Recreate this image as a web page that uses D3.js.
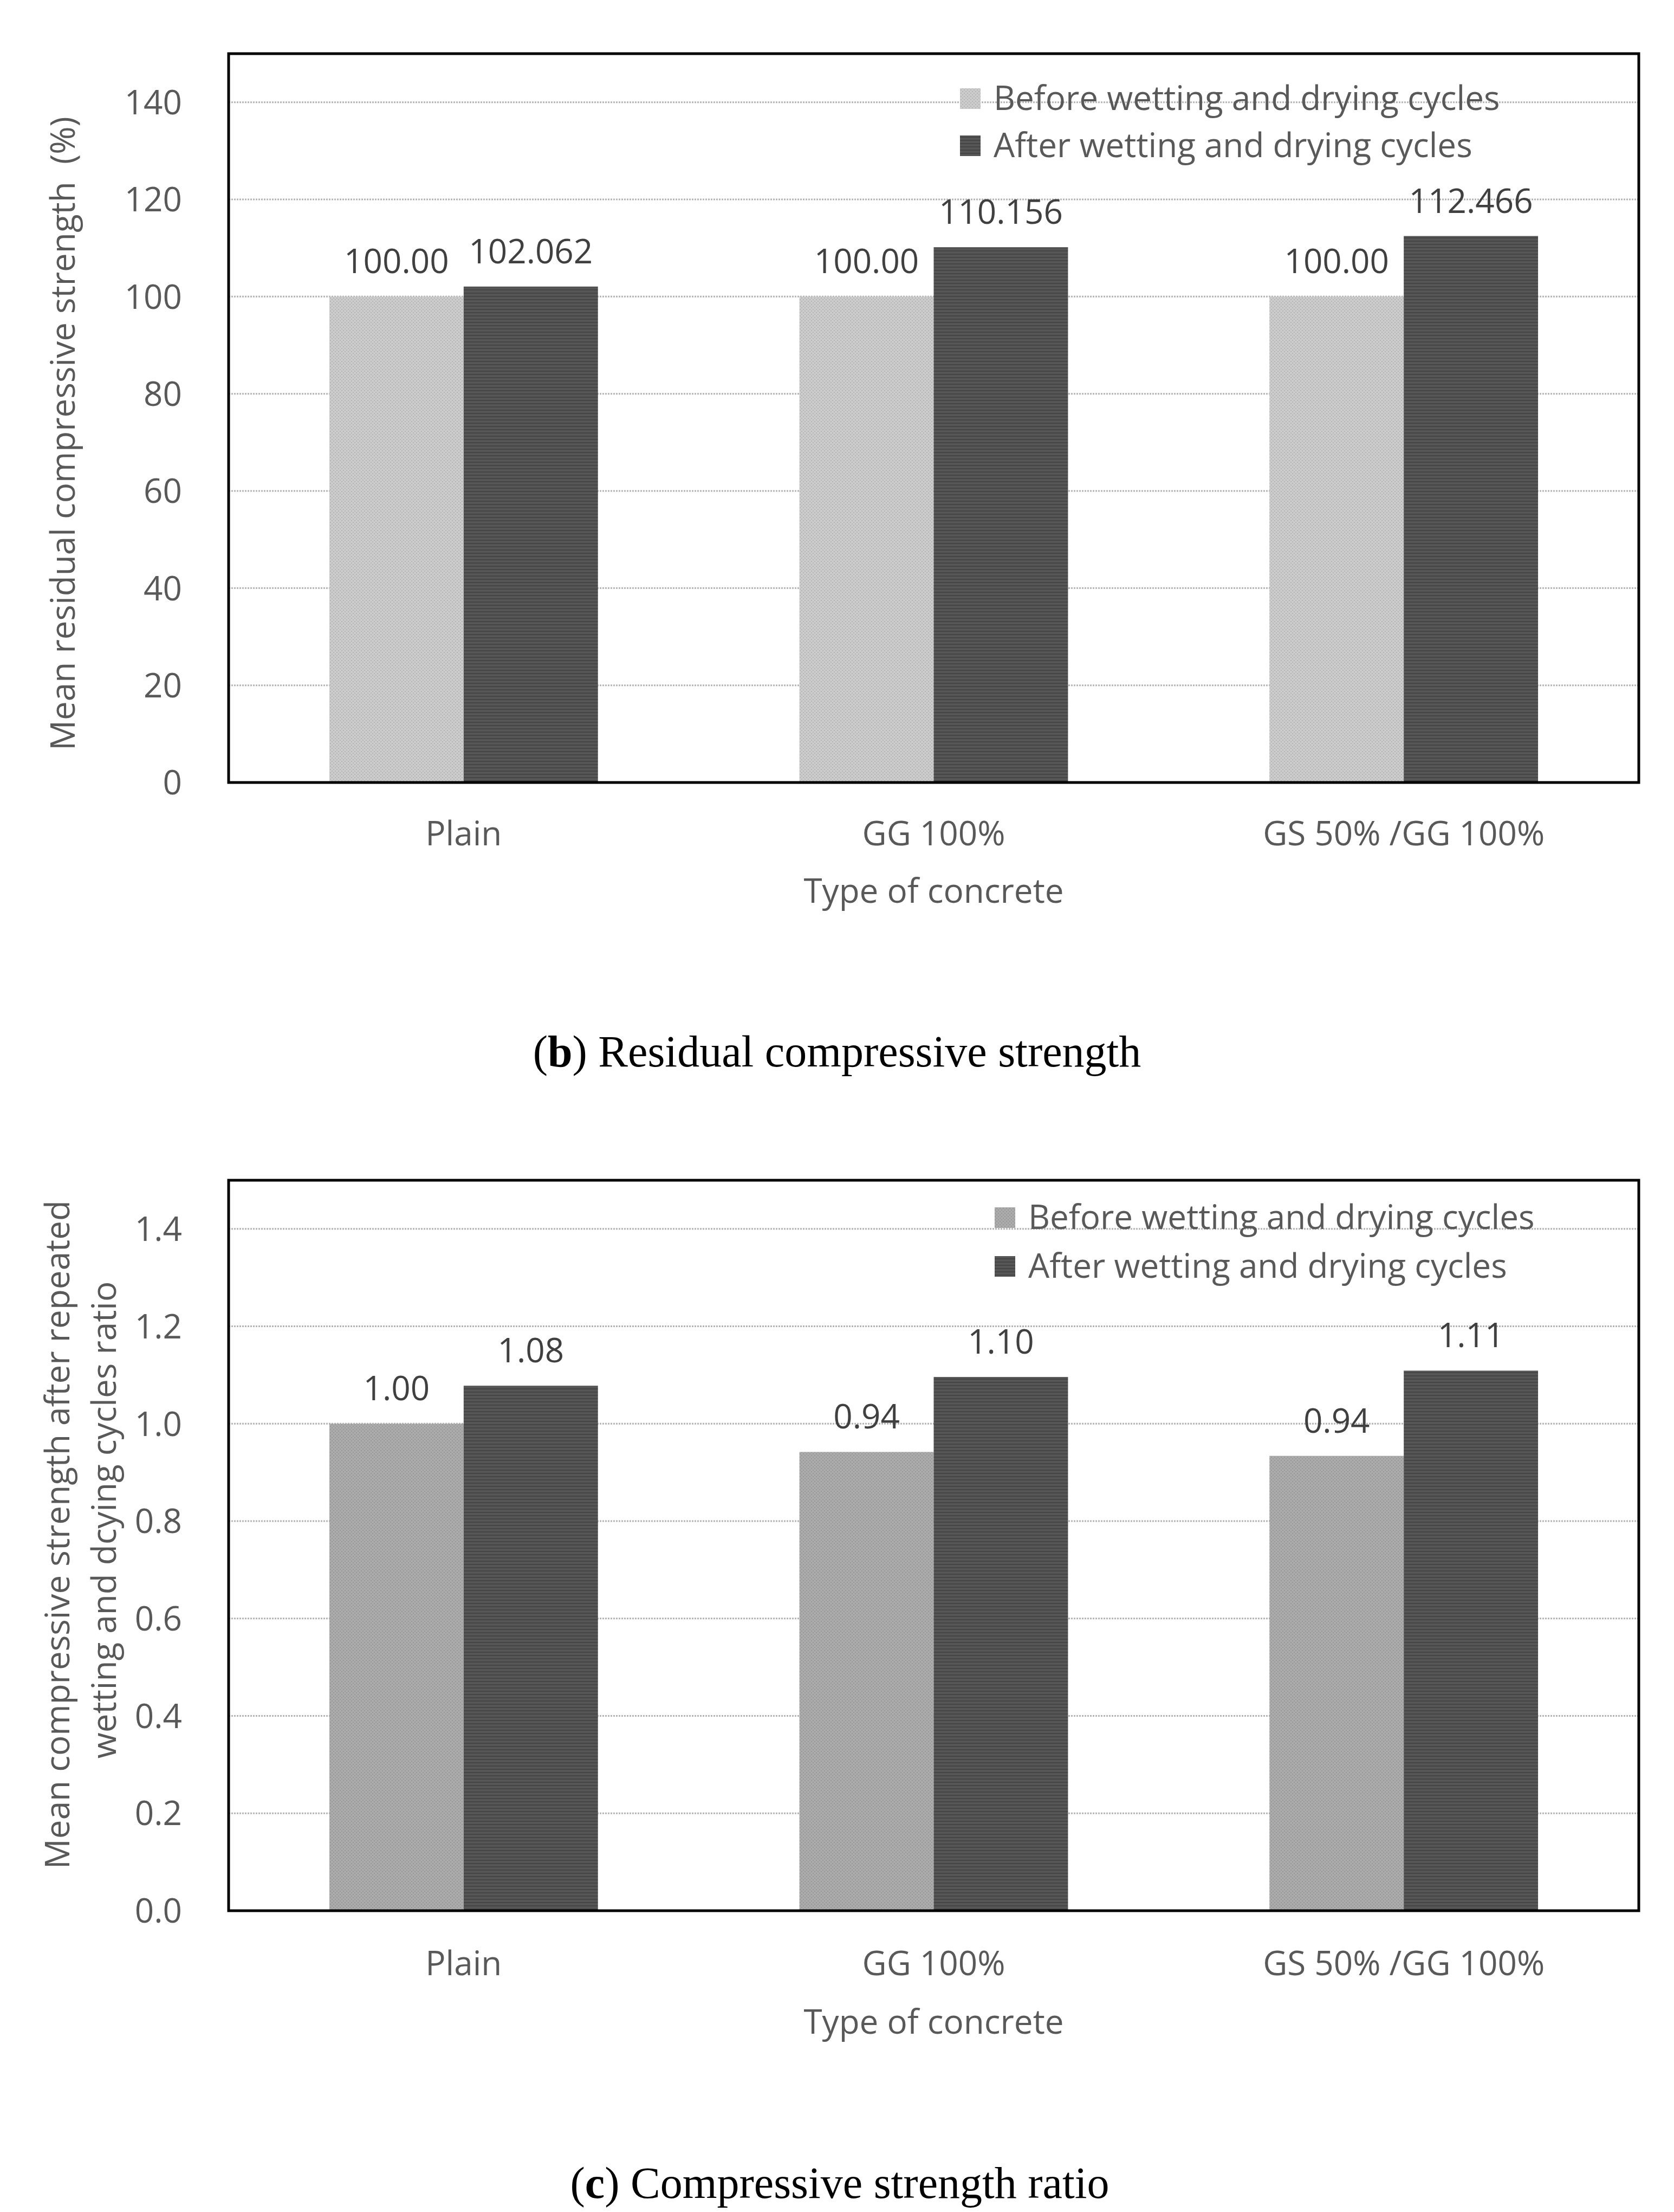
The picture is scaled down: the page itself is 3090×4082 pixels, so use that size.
<!DOCTYPE html>
<html>
<head>
<meta charset="utf-8">
<script src="https://cdn.jsdelivr.net/npm/d3@7"></script>
<style>
  html, body { margin: 0; padding: 0; background: #ffffff; }
  svg { display: block; }
</style>
</head>
<body>
<script>
// ---------- data ----------
const categories = ["Plain", "GG 100%", "GS 50% /GG 100%"];
const seriesNames = ["Before wetting and drying cycles", "After wetting and drying cycles"];

const residualBefore = [100, 100, 100];
const residualAfter = [102.062, 110.156, 112.466];
const residualLabelsBefore = ["100.00", "100.00", "100.00"];
const residualLabelsAfter = ["102.062", "110.156", "112.466"];
const residualTicks = [0, 20, 40, 60, 80, 100, 120, 140];

const ratioBefore = [1.00, 0.942, 0.934];
const ratioAfter = [1.078, 1.096, 1.109];
const ratioLabelsBefore = ["1.00", "0.94", "0.94"];
const ratioLabelsAfter = ["1.08", "1.10", "1.11"];
const ratioTicks = [0, 0.2, 0.4, 0.6, 0.8, 1.0, 1.2, 1.4];

const xTitle = "Type of concrete";
const residualYTitle = ["Mean residual compressive strength\u00a0\u00a0(%)"];
const ratioYTitle = ["Mean compressive strength after repeated", "wetting and dcying cycles ratio"];
const captionB = ["b", " Residual compressive strength"];
const captionC = ["c", " Compressive strength ratio"];

// ---------- drawing ----------
const W = 3090, H = 4082;
const svg = d3.select("body").append("svg").attr("width", W).attr("height", H)
  .style("background", "#fff");

const defs = svg.append("defs");
function makePattern(id, base, fg, kind) {
  const p = defs.append("pattern").attr("id", id).attr("patternUnits", "userSpaceOnUse")
    .attr("width", 6).attr("height", 6);
  p.append("rect").attr("width", 6).attr("height", 6).attr("fill", base);
  if (kind === "dots") {
    p.append("rect").attr("x", 0).attr("y", 0).attr("width", 2).attr("height", 2).attr("fill", fg);
    p.append("rect").attr("x", 3).attr("y", 3).attr("width", 2).attr("height", 2).attr("fill", fg);
  } else {
    p.append("rect").attr("x", 0).attr("y", 0).attr("width", 6).attr("height", 2).attr("fill", fg);
  }
}
makePattern("beforeB", "#cccccc", "#b3b3b3", "dots");
makePattern("beforeC", "#ababab", "#979797", "dots");
makePattern("afterB", "#565656", "#454545", "lines");
makePattern("afterC", "#565656", "#454545", "lines");

const sansFont = "'Open Sans', 'Noto Sans', sans-serif";

function drawChart(cfg) {
  const g = svg.append("g");
  const left = 422, right = 3025;
  const x = d3.scaleBand().domain(categories).range([left, right])
    .paddingInner(1.5 / 3.5).paddingOuter(0.75 / 3.5);
  const xs = d3.scaleBand().domain([0, 1]).range([0, x.bandwidth()]);
  const y = d3.scaleLinear().domain(cfg.domain).range([cfg.bottom, cfg.top]);

  // gridlines
  g.append("g").selectAll("line").data(cfg.ticks.filter(t => t > 0)).join("line")
    .attr("x1", left).attr("x2", right)
    .attr("y1", d => y(d)).attr("y2", d => y(d))
    .attr("stroke", "#b4b4b4").attr("stroke-width", 3).attr("stroke-dasharray", "3,2");

  // y axis tick labels via d3 axis
  const yAxis = d3.axisLeft(y).tickValues(cfg.ticks).tickFormat(cfg.tickFmt).tickSize(0).tickPadding(0);
  const ya = g.append("g").attr("transform", `translate(336,0)`).call(yAxis);
  ya.select(".domain").remove();
  ya.selectAll("text").attr("font-family", sansFont).attr("font-size", 62)
    .attr("fill", "#595959").attr("dy", "0.35em");

  // bars
  const series = [
    { vals: cfg.before, labels: cfg.labelsBefore, fill: cfg.fillBefore },
    { vals: cfg.after, labels: cfg.labelsAfter, fill: cfg.fillAfter }
  ];
  series.forEach((s, si) => {
    g.append("g").selectAll("rect").data(categories).join("rect")
      .attr("x", (d) => x(d) + xs(si))
      .attr("width", xs.bandwidth())
      .attr("y", (d, i) => y(s.vals[i]))
      .attr("height", (d, i) => y(0) - y(s.vals[i]))
      .attr("fill", s.fill);
    g.append("g").selectAll("text").data(categories).join("text")
      .attr("x", (d) => x(d) + xs(si) + xs.bandwidth() / 2)
      .attr("y", (d, i) => y(s.vals[i]) - 43)
      .attr("text-anchor", "middle")
      .attr("font-family", sansFont).attr("font-size", 62).attr("fill", "#404040")
      .text((d, i) => s.labels[i]);
  });

  // frame
  g.append("rect").attr("x", left).attr("y", cfg.top0).attr("width", right - left)
    .attr("height", cfg.bottom - cfg.top0).attr("fill", "none")
    .attr("stroke", "#000").attr("stroke-width", 5);

  // x axis labels
  const xAxis = d3.axisBottom(x).tickSize(0).tickPadding(0);
  const xa = g.append("g").attr("transform", `translate(0,${cfg.catBaseline})`).call(xAxis);
  xa.select(".domain").remove();
  xa.selectAll("text").attr("font-family", sansFont).attr("font-size", 62)
    .attr("fill", "#595959").attr("dy", 0);

  g.append("text").attr("x", (left + right) / 2).attr("y", cfg.xTitleBaseline)
    .attr("text-anchor", "middle").attr("font-family", sansFont).attr("font-size", 62)
    .attr("fill", "#595959").text(xTitle);

  // y title
  cfg.yTitle.forEach((line, i) => {
    g.append("text")
      .attr("transform", `translate(${cfg.yTitleX[i]},${cfg.yTitleY[i]}) rotate(-90)`)
      .attr("text-anchor", "middle").attr("font-family", sansFont).attr("font-size", 62)
      .attr("fill", "#595959").text(line);
  });

  // legend
  const fills = [cfg.fillBefore, cfg.fillAfter];
  seriesNames.forEach((name, i) => {
    const by = cfg.legendBaseline + i * cfg.legendStep;
    g.append("rect").attr("x", cfg.legendX).attr("y", by - 40).attr("width", 38).attr("height", 38)
      .attr("fill", fills[i]);
    g.append("text").attr("x", cfg.legendX + 62).attr("y", by)
      .attr("font-family", sansFont).attr("font-size", 62).attr("fill", "#595959").text(name);
  });

  // caption
  const cap = g.append("text").attr("x", cfg.captionX).attr("y", cfg.captionBaseline)
    .attr("text-anchor", "middle").attr("font-family", "'Liberation Serif', 'Times New Roman', serif")
    .attr("font-size", 82).attr("fill", "#000");
  cap.append("tspan").text("(");
  cap.append("tspan").attr("font-weight", "bold").text(cfg.caption[0]);
  cap.append("tspan").text(")" + cfg.caption[1]);
}

drawChart({
  domain: [0, 150], top: 99, top0: 99, bottom: 1444,
  ticks: residualTicks, tickFmt: d3.format("d"),
  before: residualBefore, after: residualAfter,
  labelsBefore: residualLabelsBefore, labelsAfter: residualLabelsAfter,
  fillBefore: "url(#beforeB)", fillAfter: "url(#afterB)",
  catBaseline: 1560, xTitleBaseline: 1666,
  yTitle: residualYTitle, yTitleX: [138], yTitleY: [800],
  legendX: 1772, legendBaseline: 203, legendStep: 87,
  caption: captionB, captionX: 1545, captionBaseline: 1968
});

drawChart({
  domain: [0, 1.5], top: 2178, top0: 2178, bottom: 3526,
  ticks: ratioTicks, tickFmt: d3.format(".1f"),
  before: ratioBefore, after: ratioAfter,
  labelsBefore: ratioLabelsBefore, labelsAfter: ratioLabelsAfter,
  fillBefore: "url(#beforeC)", fillAfter: "url(#afterC)",
  catBaseline: 3645, xTitleBaseline: 3753,
  yTitle: ratioYTitle, yTitleX: [128, 214], yTitleY: [2832, 2805],
  legendX: 1836, legendBaseline: 2268, legendStep: 90,
  caption: captionC, captionX: 1550, captionBaseline: 4056
});
</script>
</body>
</html>
